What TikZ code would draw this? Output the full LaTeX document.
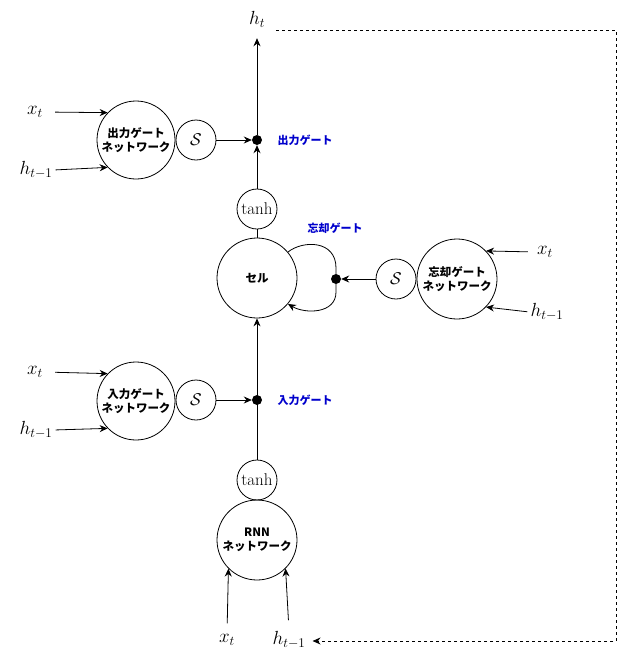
\RequirePackage{fix-cm}
\documentclass[tikz,border=0pt]{standalone}
\usepackage{fontspec}
\newfontfamily\jp{Noto Sans CJK JP}
\usetikzlibrary{arrows.meta}
\definecolor{gblue}{RGB}{0,0,204}
\begin{document}
\begin{tikzpicture}[x=1pt,y=-1pt,
  net/.style={circle,draw,line width=0.8pt,minimum size=80pt,inner sep=0pt,font=\jp\bfseries\fontsize{11.5}{14.5}\selectfont,align=center},
  smallc/.style={circle,draw,line width=0.8pt,minimum size=40pt,inner sep=0pt,font=\fontsize{17}{20}\selectfont},
  gdot/.style={circle,fill,inner sep=0pt,minimum size=10pt},
  lab/.style={font=\fontsize{19}{22}\selectfont,inner sep=1pt},
  glab/.style={font=\jp\bfseries\fontsize{11}{13}\selectfont,text=gblue},
  arr/.style={-{Stealth[length=8pt,width=7pt]},line width=0.8pt},
  thin/.style={line width=0.8pt},
]
\useasboundingbox (0,0) rectangle (631,665);
% output gate
\node[net,minimum size=78pt] (og) at (136,140) {出力ゲート\\ネットワーク};
\node[smallc] (os) at (196,140) {$\mathcal{S}$};
\node[glab] (ol) at (305,140) {出力ゲート};
\node[lab] (ox) at (35,112) {$x_t$};
\node[lab] (oh) at (36,170) {$h_{t-1}$};
\node[lab] (ht) at (257,19) {$h_t$};
% cell
\node[smallc] (t1) at (257,209) {$\tanh$};
\node[net] (cell) at (257,278) {セル};
% forget gate
\node[glab] (fl) at (335,228) {忘却ゲート};
\node[smallc] (fs) at (396,279) {$\mathcal{S}$};
\node[net] (fn) at (457,279) {忘却ゲート\\ネットワーク};
\node[lab] (fx) at (545,252) {$x_t$};
\node[lab] (fh) at (547,312) {$h_{t-1}$};
% input gate
\node[net,minimum size=78pt] (ig) at (136,401) {入力ゲート\\ネットワーク};
\node[smallc] (is) at (196,400) {$\mathcal{S}$};
\node[glab] (il) at (305,400) {入力ゲート};
\node[lab] (ix) at (35,372) {$x_t$};
\node[lab] (ih) at (36,430) {$h_{t-1}$};
% rnn
\node[smallc] (t2) at (257,480) {$\tanh$};
\node[net] (rnn) at (257,540) {RNN\\ネットワーク};
\node[lab] (bx) at (227,640) {$x_t$};
\node[lab] (bh) at (289,640) {$h_{t-1}$};
% connectors
\draw[arr,shorten <=11pt] (ox.east) -- (og.136);
\draw[arr,shorten <=2pt] (oh.east) -- (og.224);
\draw[arr,shorten <=11pt] (ix.east) -- (ig.136);
\draw[arr,shorten <=2pt] (ih.east) -- (ig.224);
\draw[arr,shorten <=8pt] (fx.west) -- (fn.44);
\draw[arr,shorten <=2pt] (fh.west) -- (fn.-44);
\draw[arr,shorten <=10pt] (bx.north) -- (rnn.225);
\draw[arr,shorten <=10pt] (bh.north) -- (rnn.-45);
\draw[thin] (t1) -- (cell);
\draw[arr] (t2) -- (cell);
\node[gdot] (od) at (257,140) {};
\node[gdot] (id) at (257,400) {};
\node[gdot] (fd) at (336,279) {};
\draw[arr] (t1) -- (od);
\draw[arr,shorten >=10pt] (od) -- (ht);
\draw[arr] (os) -- (od);
\draw[arr] (is) -- (id);
\draw[arr] (fs) -- (fd);
\draw[thin] (cell.40) .. controls (303,240) and (336,240) .. (336,268) -- (fd);
\draw[arr] (fd) -- (336,292) .. controls (336,314) and (305,314) .. (cell.-40);
% recurrent dashed connector
\coordinate (d0) at (276,30);
\coordinate (d1) at (616,30);
\coordinate (d2) at (616,641);
\draw[arr,dash pattern=on 3pt off 3pt,shorten >=6pt] (d0) -- (d1) -- (d2) -- (d2 -| bh.east);
\end{tikzpicture}
\end{document}
